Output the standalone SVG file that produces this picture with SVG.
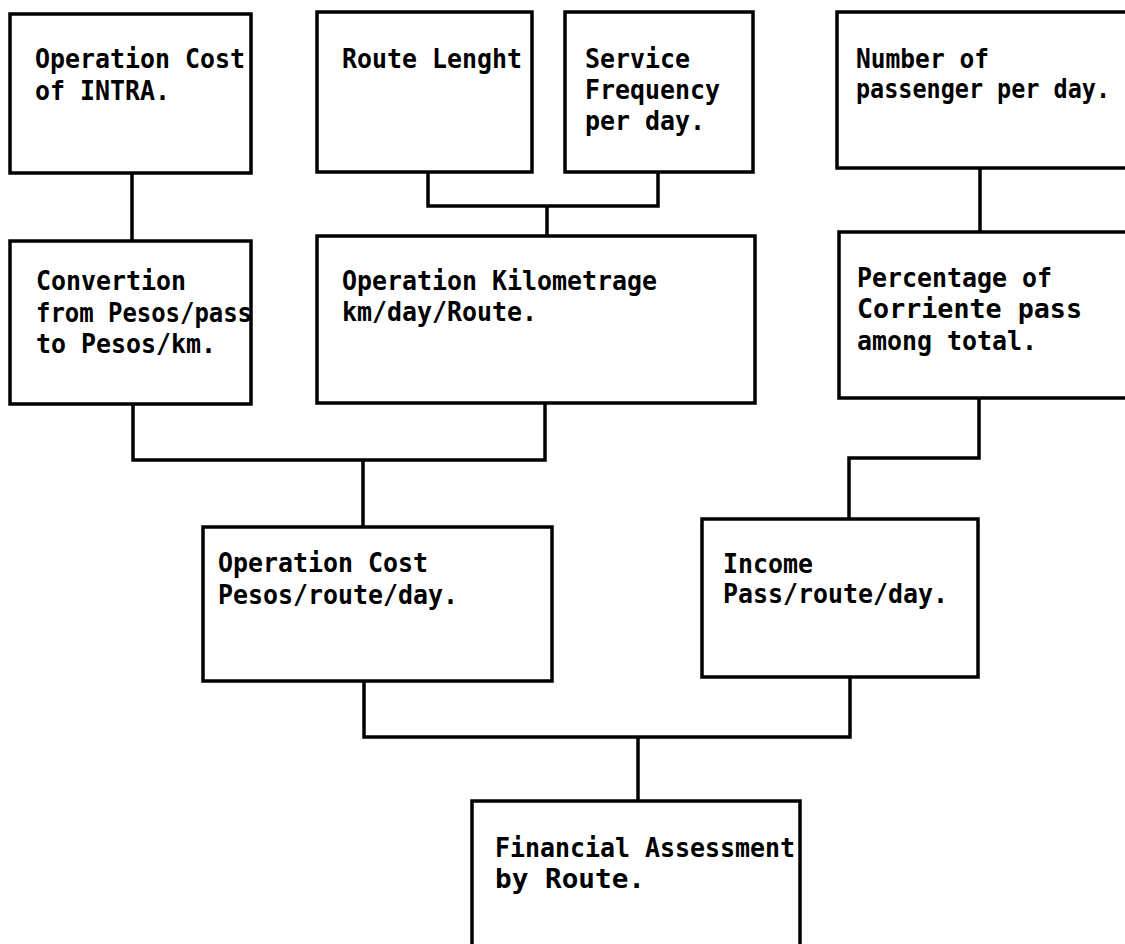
<svg xmlns="http://www.w3.org/2000/svg" width="1125" height="944" viewBox="0 0 1125 944">
  <style>
    .box { fill: #ffffff; stroke: #000000; stroke-width: 3.5; }
    .wire { fill: none; stroke: #000000; stroke-width: 3.5; stroke-linejoin: miter; }
    .lbl { font-family: "DejaVu Sans Mono", "Liberation Mono", monospace; font-size: 27px; fill: #000000; font-weight: bold; }
  </style>
  <rect width="1125" height="944" fill="#ffffff"/>

  <!-- connectors -->
  <g id="connectors">
    <path class="wire" d="M132,173 V241"/>
    <path class="wire" d="M428,172 V206 H658 V172 M547,206 V236"/>
    <path class="wire" d="M980,168 V232"/>
    <path class="wire" d="M133,404 V460 H545 V403 M363,460 V527"/>
    <path class="wire" d="M979,398 V458 H849 V519"/>
    <path class="wire" d="M364,681 V737 H850 V677 M638,737 V801"/>
  </g>

  <g id="op-cost-intra">
    <rect class="box" x="10" y="14" width="241" height="159"/>
    <text class="lbl" x="35" y="68" textLength="210" lengthAdjust="spacingAndGlyphs">Operation Cost</text>
    <text class="lbl" x="35" y="100" textLength="135" lengthAdjust="spacingAndGlyphs">of INTRA.</text>
  </g>

  <g id="route-length">
    <rect class="box" x="317" y="12" width="215" height="160"/>
    <text class="lbl" x="342" y="68" textLength="180" lengthAdjust="spacingAndGlyphs">Route Lenght</text>
  </g>

  <g id="service-frequency">
    <rect class="box" x="565" y="12" width="188" height="160"/>
    <text class="lbl" x="585" y="68" textLength="105" lengthAdjust="spacingAndGlyphs">Service</text>
    <text class="lbl" x="585" y="99" textLength="135" lengthAdjust="spacingAndGlyphs">Frequency</text>
    <text class="lbl" x="585" y="130" textLength="120" lengthAdjust="spacingAndGlyphs">per day.</text>
  </g>

  <g id="passengers-per-day">
    <rect class="box" x="837" y="12" width="300" height="156"/>
    <text class="lbl" x="856" y="68" textLength="133" lengthAdjust="spacingAndGlyphs">Number of</text>
    <text class="lbl" x="856" y="98" textLength="254" lengthAdjust="spacingAndGlyphs">passenger per day.</text>
  </g>

  <g id="conversion">
    <rect class="box" x="10" y="241" width="241" height="163"/>
    <text class="lbl" x="36" y="290" textLength="150" lengthAdjust="spacingAndGlyphs">Convertion</text>
    <text class="lbl" x="36" y="322" textLength="216" lengthAdjust="spacingAndGlyphs">from Pesos/pass</text>
    <text class="lbl" x="36" y="353" textLength="180" lengthAdjust="spacingAndGlyphs">to Pesos/km.</text>
  </g>

  <g id="op-kilometrage">
    <rect class="box" x="317" y="236" width="438" height="167"/>
    <text class="lbl" x="342" y="290" textLength="315" lengthAdjust="spacingAndGlyphs">Operation Kilometrage</text>
    <text class="lbl" x="342" y="321" textLength="195" lengthAdjust="spacingAndGlyphs">km/day/Route.</text>
  </g>

  <g id="corriente-share">
    <rect class="box" x="839" y="232" width="300" height="166"/>
    <text class="lbl" x="857" y="287" textLength="195" lengthAdjust="spacingAndGlyphs">Percentage of</text>
    <text class="lbl" x="857" y="318" textLength="225" lengthAdjust="spacingAndGlyphs">Corriente pass</text>
    <text class="lbl" x="857" y="350" textLength="180" lengthAdjust="spacingAndGlyphs">among total.</text>
  </g>

  <g id="op-cost-route">
    <rect class="box" x="203" y="527" width="349" height="154"/>
    <text class="lbl" x="218" y="572" textLength="210" lengthAdjust="spacingAndGlyphs">Operation Cost</text>
    <text class="lbl" x="218" y="604" textLength="240" lengthAdjust="spacingAndGlyphs">Pesos/route/day.</text>
  </g>

  <g id="income">
    <rect class="box" x="702" y="519" width="276" height="158"/>
    <text class="lbl" x="723" y="573" textLength="90" lengthAdjust="spacingAndGlyphs">Income</text>
    <text class="lbl" x="723" y="603" textLength="225" lengthAdjust="spacingAndGlyphs">Pass/route/day.</text>
  </g>

  <g id="financial-assessment">
    <rect class="box" x="472" y="801" width="328" height="160"/>
    <text class="lbl" x="495" y="857" textLength="300" lengthAdjust="spacingAndGlyphs">Financial Assessment</text>
    <text class="lbl" x="495" y="888" textLength="150" lengthAdjust="spacingAndGlyphs">by Route.</text>
  </g>
</svg>
